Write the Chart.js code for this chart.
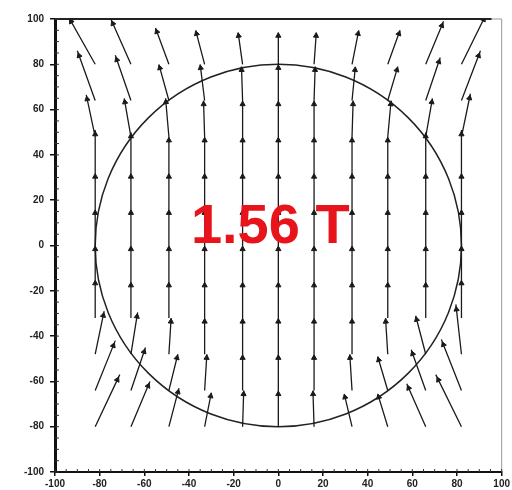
<!DOCTYPE html>
<html>
<head>
<meta charset="utf-8">
<script src="https://cdn.jsdelivr.net/npm/chart.js@4.4.1/dist/chart.umd.min.js"></script>
<style>
  html, body { margin: 0; padding: 0; background: #fff; }
  #wrap { width: 512px; height: 490px; }
</style>
</head>
<body>
<div id="wrap"><canvas id="field"></canvas></div>
<script>
// grid of arrow tails
const colX = [-82, -66, -49, -33, -16, 0, 16, 33, 49, 66, 82];
const rowY = [-80, -64, -48, -32, -16, 0, 16, 32, 48, 64, 80];

// arrow components, one row per rowY entry (bottom to top), one value per column
const arrowDx = [
  [11, 8.5, 4.5, 3, 0.5, 0, -0.5, -3.5, -4.5, -8.5, -11.5],
  [9, 6.5, 4, 1, 0, 0, 0, -1, -4.5, -6.5, -9],
  [4, 3, 1, 0, 0, 0, 0, 0, -1, -4.5, -2.5],
  [0, 0, 0, 0, 0, 0, 0, 0, 0, 0, 0],
  [0, 0, 0, 0, 0, 0, 0, 0, 0, 0, 0],
  [0, 0, 0, 0, 0, 0, 0, 0, 0, 0, 0],
  [0, 0, 0, 0, 0, 0, 0, 0, 0, 0, 0],
  [0, 0, 0, 0, 0, 0, 0, 0, 0, 0, 0],
  [-4, -3, -1.5, -0.5, 0, 0, 0, 0.5, 1.5, 3, 4],
  [-8, -7, -4.5, -2, -0.5, 0, 0.5, 1.5, 4.5, 6.5, 8.5],
  [-12, -9, -6, -4, -2, 0, 1, 3, 5.5, 8, 11]
];
const arrowDy = [
  [23, 20, 17, 15, 16, 16, 16, 14.5, 14.5, 19, 23],
  [22, 19, 16, 16, 16, 16, 16, 16, 15, 18, 22.5],
  [19, 18.5, 16, 16, 16, 16, 16, 16, 16, 17, 22],
  [17, 16, 16, 16, 16, 16, 16, 16, 16, 16, 17],
  [16, 16, 16, 16, 16, 16, 16, 16, 16, 16, 16],
  [16, 16, 16, 16, 16, 16, 16, 16, 16, 16, 16],
  [16, 16, 16, 16, 16, 16, 16, 16, 16, 16, 16],
  [19, 18, 16, 16, 16, 16, 16, 16, 16, 18, 19],
  [18.5, 17, 17, 16, 16, 16, 16, 16, 16, 17, 19],
  [22, 20, 16, 16, 15, 16, 15, 15, 15, 19, 22],
  [21, 20, 16, 15, 14, 14, 14, 15, 15, 19, 22]
];

const ringCenter = [0, 0];
const ringRadius = [82, 80];   // x, y
const fieldText = '1.56 T';
const fieldTextAt = [-3.6, 1];

const shafts = [];
const heads = [];
rowY.forEach((y, r) => {
  colX.forEach((x, c) => {
    const u = arrowDx[r][c], v = arrowDy[r][c];
    shafts.push({x: x, y: y}, {x: x + u, y: y + v}, {x: x, y: null});
    heads.push({x: x + 0.9 * u, y: y + 0.9 * v, u: u, v: v});
  });
});

const decor = {
  id: 'decor',
  beforeDatasetsDraw(chart) {
    const {ctx, chartArea: a, scales: {x, y}} = chart;
    ctx.save();
    // frame top and right
    ctx.strokeStyle = '#222';
    ctx.lineWidth = 2;
    ctx.beginPath();
    ctx.moveTo(a.left, a.top); ctx.lineTo(a.right - 10, a.top);
    ctx.stroke();
    ctx.strokeStyle = '#999';
    ctx.lineWidth = 1;
    ctx.beginPath();
    ctx.moveTo(a.right - 10, a.top); ctx.lineTo(a.right, a.top);
    ctx.moveTo(a.right, a.top); ctx.lineTo(a.right, a.bottom);
    ctx.stroke();
    // minor ticks
    ctx.strokeStyle = '#333';
    ctx.lineWidth = 1;
    ctx.beginPath();
    for (let v = -100; v <= 100; v += 5) {
      const py = y.getPixelForValue(v);
      ctx.moveTo(a.left, py); ctx.lineTo(a.left + 4, py);
      const px = x.getPixelForValue(v);
      ctx.moveTo(px, a.bottom); ctx.lineTo(px, a.bottom - 3);
    }
    ctx.stroke();
    // ring
    const cx = x.getPixelForValue(ringCenter[0]);
    const cy = y.getPixelForValue(ringCenter[1]);
    const rx = x.getPixelForValue(ringCenter[0] + ringRadius[0]) - cx;
    const ry = cy - y.getPixelForValue(ringCenter[1] + ringRadius[1]);
    ctx.strokeStyle = '#222';
    ctx.lineWidth = 1.5;
    ctx.beginPath();
    ctx.ellipse(cx, cy, rx, ry, 0, 0, Math.PI * 2);
    ctx.stroke();
    ctx.restore();
  },
  afterDatasetsDraw(chart) {
    const {ctx, scales: {x, y}} = chart;
    ctx.save();
    ctx.fillStyle = '#e8141b';
    ctx.font = 'bold 56px "Liberation Sans", Arial, sans-serif';
    ctx.textAlign = 'center';
    ctx.textBaseline = 'alphabetic';
    ctx.fillText(fieldText, x.getPixelForValue(fieldTextAt[0]), y.getPixelForValue(fieldTextAt[1]));
    ctx.restore();
  }
};

const tickFont = {family: '"Liberation Sans", Arial, sans-serif', size: 10, weight: 'bold'};

new Chart(document.getElementById('field'), {
  type: 'scatter',
  data: {
    datasets: [
      {
        data: shafts,
        showLine: true,
        borderColor: '#1a1a1a',
        borderWidth: 1.3,
        pointRadius: 0,
        spanGaps: false
      },
      {
        data: heads,
        pointStyle: 'triangle',
        pointRadius: 3,
        backgroundColor: '#1a1a1a',
        borderColor: '#1a1a1a',
        borderWidth: 1,
        rotation(c) {
          const p = c.raw;
          if (!p) return 0;
          const xs = c.chart.scales.x, ys = c.chart.scales.y;
          const ddx = xs.getPixelForValue(p.x + p.u) - xs.getPixelForValue(p.x);
          const ddy = ys.getPixelForValue(p.y) - ys.getPixelForValue(p.y + p.v);
          return Math.atan2(ddx, ddy) * 180 / Math.PI;
        }
      }
    ]
  },
  options: {
    responsive: true,
    maintainAspectRatio: false,
    animation: false,
    events: [],
    layout: {autoPadding: false, padding: {top: 19, right: 5, left: 0, bottom: 0}},
    plugins: {legend: {display: false}, tooltip: {enabled: false}},
    scales: {
      x: {
        min: -100, max: 100,
        afterFit(s) { s.height = 18; },
        border: {color: '#111', width: 2},
        grid: {drawOnChartArea: false, tickLength: 4, color: '#111', lineWidth: 1.5},
        ticks: {stepSize: 20, padding: 2, color: '#222', font: tickFont, maxRotation: 0}
      },
      y: {
        min: -100, max: 100,
        afterFit(s) { s.width = 55; },
        border: {color: '#111', width: 3},
        grid: {drawOnChartArea: false, tickLength: 5, color: '#111', lineWidth: 1.5},
        ticks: {stepSize: 20, padding: 6, color: '#222', font: tickFont}
      }
    }
  },
  plugins: [decor]
});
</script>
</body>
</html>
